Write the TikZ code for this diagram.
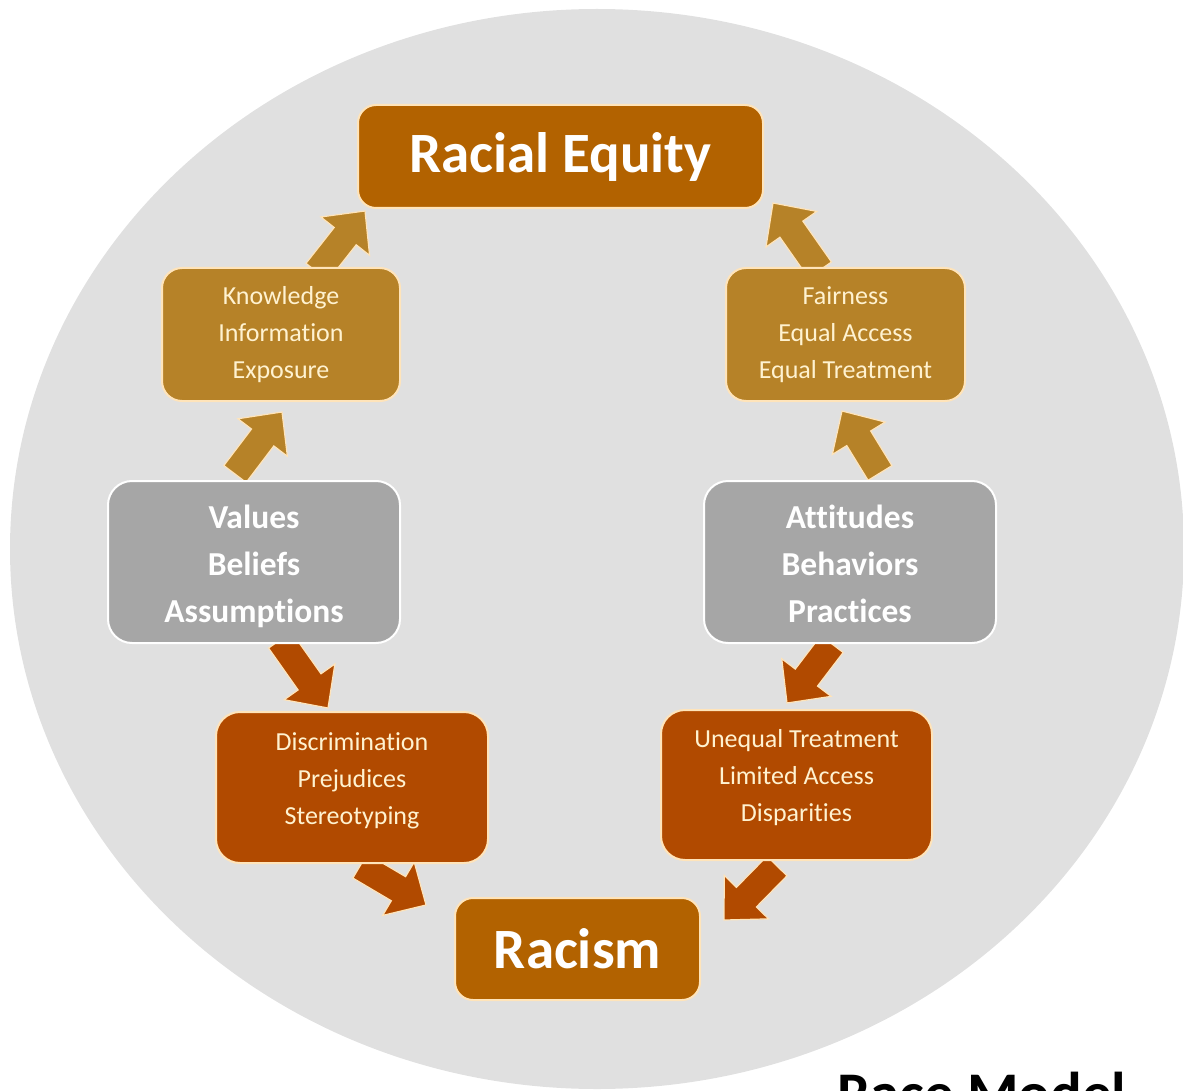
\documentclass[tikz,border=0pt]{standalone}
\usepackage{fontspec}
\setmainfont[Ligatures=NoCommon]{Carlito}
\usetikzlibrary{calc}
\definecolor{bggray}{RGB}{224,224,224}
\definecolor{titlebrown}{RGB}{178,98,0}
\definecolor{gold}{RGB}{182,130,40}
\definecolor{rust}{RGB}{177,74,0}
\definecolor{midgray}{RGB}{166,166,166}
\definecolor{cream}{RGB}{255,228,186}
\definecolor{textcream}{RGB}{255,242,208}

\newcommand\fatarrow[3]{%
  \coordinate (hb) at ($(#2)!32pt!(#1)$);
  \filldraw[fill=#3, draw=cream, line width=1.2pt, line join=miter]
   ($(#1)!14pt!90:(#2)$) -- ($(hb)!14pt!90:(#2)$) -- ($(hb)!31pt!90:(#2)$) -- (#2)
   -- ($(hb)!31pt!-90:(#2)$) -- ($(hb)!14pt!-90:(#2)$) -- ($(#1)!14pt!-90:(#2)$) -- cycle;
}

\tikzset{
  box/.style={rounded corners=20pt, draw=cream, line width=2pt, align=center, inner sep=0pt},
  titlebox/.style={box, fill=titlebrown, text=white, font=\fontsize{57}{60}\selectfont\bfseries, rounded corners=18pt},
  goldbox/.style={box, fill=gold, text=textcream, font=\fontsize{26}{37}\selectfont},
  graybox/.style={box, fill=midgray, draw=white, rounded corners=24pt},
  graytext/.style={text=white, font=\fontsize{33.5}{47}\selectfont\bfseries, align=center, inner sep=0pt},
  rustbox/.style={box, fill=rust, rounded corners=24pt},
  rusttext/.style={text=textcream, font=\fontsize{26}{37}\selectfont, align=center, inner sep=0pt},
}

\begin{document}
\begin{tikzpicture}[x=1pt,y=-1pt]
\useasboundingbox (0,0) rectangle (1183,1091);
\fill[bggray] (597,549) ellipse [x radius=587pt, y radius=540pt];

% connector end points
\coordinate (a1s) at (317,272); \coordinate (a1e) at (365,211);
\coordinate (a2s) at (235,474); \coordinate (a2e) at (282,412);
\coordinate (a3s) at (880,473); \coordinate (a3e) at (842,411);
\coordinate (a4s) at (820,270); \coordinate (a4e) at (773,203);
\coordinate (a5s) at (280,640); \coordinate (a5e) at (328,708);
\coordinate (a6s) at (832,644); \coordinate (a6e) at (787,703);
\coordinate (a7s) at (360,866); \coordinate (a7e) at (426,905);
\coordinate (a8s) at (777,866); \coordinate (a8e) at (724,920);

\fatarrow{a1s}{a1e}{gold}
\fatarrow{a2s}{a2e}{gold}
\fatarrow{a3s}{a3e}{gold}
\fatarrow{a4s}{a4e}{gold}
\fatarrow{a5s}{a5e}{rust}
\fatarrow{a6s}{a6e}{rust}
\fatarrow{a7s}{a7e}{rust}
\fatarrow{a8s}{a8e}{rust}

\node[titlebox, minimum width=405pt, minimum height=103pt] (eq) at (560.5,156.5) {Racial Equity};
\node[titlebox, minimum width=245pt, minimum height=102pt] (ra) at (577.5,949) {Racism};

\node[goldbox, minimum width=238pt, minimum height=133pt] (kn) at (281,334.5) {Knowledge\\Information\\Exposure};
\node[goldbox, minimum width=239pt, minimum height=133pt] (fa) at (845.5,334.5) {Fairness\\Equal Access\\Equal Treatment};

\node[graybox, minimum width=292pt, minimum height=162pt] (va) at (254,562) {};
\node[graytext] (vat) at ([yshift=-4pt]va.center) {Values\\Beliefs\\Assumptions};
\node[graybox, minimum width=292pt, minimum height=162pt] (at) at (850,562) {};
\node[graytext] (att) at ([yshift=-2pt]at.center) {Attitudes\\Behaviors\\Practices};

\node[rustbox, minimum width=272pt, minimum height=151pt] (di) at (352,787.5) {};
\node[rusttext] (dit) at ([yshift=7pt]di.center) {Discrimination\\Prejudices\\Stereotyping};
\node[rustbox, minimum width=271pt, minimum height=150pt] (un) at (796.5,785) {};
\node[rusttext] (unt) at ([yshift=7pt]un.center) {Unequal Treatment\\Limited Access\\Disparities};

\node[anchor=base west, inner sep=0pt, font=\fontsize{59}{60}\selectfont\bfseries, text=black] (rm) at (837,1113) {Race Model};
\end{tikzpicture}
\end{document}
